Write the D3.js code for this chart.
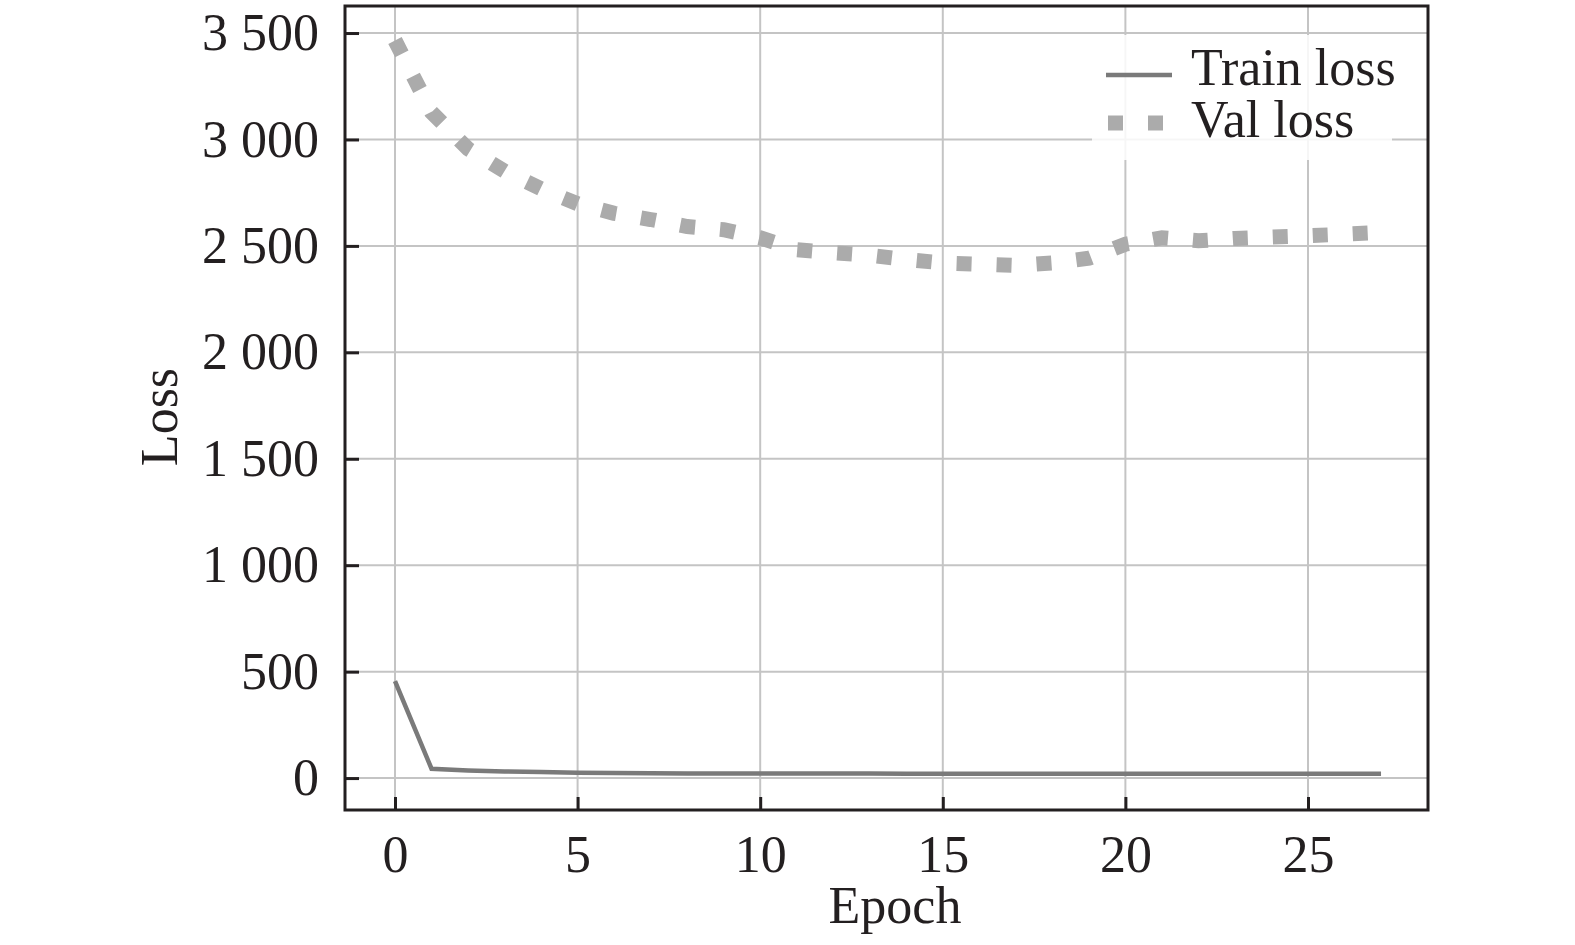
<!DOCTYPE html>
<html>
<head>
<meta charset="utf-8">
<script src="https://cdn.jsdelivr.net/npm/d3@7/dist/d3.min.js"></script>
<style>
	body { margin: 0; background: #fff; }
	svg { display: block; font-family: "Liberation Serif", "Times New Roman", serif; }
	.grid line { stroke: #c4c4c4; stroke-width: 2; }
	.axis path { display: none; }
	.axis line { stroke: #231f20; stroke-width: 3; }
	.axis text { fill: #231f20; font-size: 52px; font-family: "Liberation Serif", "Times New Roman", serif; }
</style>
</head>
<body>
<svg id="loss_svg" width="1575" height="945"></svg>
<script>
var epochs = [0, 1, 2, 3, 4, 5, 6, 7, 8, 9, 10, 11, 12, 13, 14, 15, 16, 17, 18, 19, 20, 21, 22, 23, 24, 25, 26, 27];

var train_loss = [455, 44, 36, 31, 28, 25, 24, 23, 22, 22, 21, 21, 21, 21, 20, 20, 20, 20, 20, 20, 20, 20, 20, 20, 20, 20, 20, 20];

var val_loss = [3465, 3128, 2956, 2851, 2768, 2698, 2653, 2624, 2591, 2576, 2538, 2482, 2468, 2456, 2436, 2420, 2414, 2408, 2420, 2442, 2508, 2538, 2524, 2535, 2542, 2548, 2555, 2563];

var x_ticks = [0, 5, 10, 15, 20, 25];
var y_ticks = [0, 500, 1000, 1500, 2000, 2500, 3000, 3500];

var series_names = ["Train loss", "Val loss"];

var svg = d3.select("#loss_svg"),
	box = {left: 345, right: 1428, top: 6, bottom: 810};

var x = d3.scaleLinear()
	.domain([-1.369, 28.286])
	.range([box.left, box.right]);

var y = d3.scaleLinear()
	.domain([-150, 3627])
	.range([box.bottom, box.top]);

// thousands separated by a space, as in the figure
var fmt = d3.formatLocale({decimal: ".", thousands: " ", grouping: [3], currency: ["", ""]}).format(",");

var rows = epochs.map(function(e, i) {
	return {epoch: e, train: train_loss[i], val: val_loss[i]};
});

// grid
var grid = svg.append("g").attr("class", "grid");

grid.selectAll("line.gx")
	.data(x_ticks)
	.enter().append("line")
	.attr("class", "gx")
	.attr("x1", function(d) { return x(d); })
	.attr("x2", function(d) { return x(d); })
	.attr("y1", box.top)
	.attr("y2", box.bottom);

grid.selectAll("line.gy")
	.data(y_ticks)
	.enter().append("line")
	.attr("class", "gy")
	.attr("x1", box.left)
	.attr("x2", box.right)
	.attr("y1", function(d) { return y(d); })
	.attr("y2", function(d) { return y(d); });

var line_train = d3.line()
	.x(function(d) { return x(d.epoch); })
	.y(function(d) { return y(d.train); });

var line_val = d3.line()
	.x(function(d) { return x(d.epoch); })
	.y(function(d) { return y(d.val); });

svg.append("path")
	.datum(rows)
	.attr("d", line_train)
	.attr("fill", "none")
	.attr("stroke", "#7a7a7a")
	.attr("stroke-width", 4.5);

svg.append("path")
	.datum(rows)
	.attr("d", line_val)
	.attr("fill", "none")
	.attr("stroke", "#ababab")
	.attr("stroke-width", 15)
	.attr("stroke-dasharray", "15,25");

// axes, ticks pointing inward
svg.append("g")
	.attr("class", "axis axis--x")
	.attr("transform", "translate(0," + box.bottom + ")")
	.call(d3.axisBottom(x).tickValues(x_ticks).tickSize(-13).tickPadding(25))
	.attr("font-family", null)
	.attr("font-size", null);

svg.append("g")
	.attr("class", "axis axis--y")
	.attr("transform", "translate(" + box.left + ",0)")
	.call(d3.axisLeft(y).tickValues(y_ticks).tickFormat(fmt).tickSize(-14).tickPadding(26))
	.attr("font-family", null)
	.attr("font-size", null);

svg.selectAll(".axis--x text").attr("dy", "0.71em");

svg.append("rect")
	.attr("x", box.left)
	.attr("y", box.top)
	.attr("width", box.right - box.left)
	.attr("height", box.bottom - box.top)
	.attr("fill", "none")
	.attr("stroke", "#231f20")
	.attr("stroke-width", 3);

// axis titles
svg.append("text")
	.attr("x", 895)
	.attr("y", 923)
	.attr("text-anchor", "middle")
	.style("font-size", "52px")
	.style("fill", "#231f20")
	.text("Epoch");

svg.append("text")
	.attr("transform", "translate(177,417) rotate(-90)")
	.attr("text-anchor", "middle")
	.style("font-size", "52px")
	.style("fill", "#231f20")
	.text("Loss");

// legend
var legend = svg.append("g").attr("class", "legend");

legend.append("rect")
	.attr("x", 1092)
	.attr("y", 35)
	.attr("width", 300)
	.attr("height", 125)
	.attr("fill", "#fff")
	.attr("fill-opacity", 0.85);

legend.append("line")
	.attr("x1", 1106).attr("x2", 1172)
	.attr("y1", 75).attr("y2", 75)
	.attr("stroke", "#7a7a7a")
	.attr("stroke-width", 4.5);

legend.append("line")
	.attr("x1", 1108).attr("x2", 1172)
	.attr("y1", 123).attr("y2", 123)
	.attr("stroke", "#ababab")
	.attr("stroke-width", 15)
	.attr("stroke-dasharray", "15,25");

legend.selectAll("text")
	.data(series_names)
	.enter().append("text")
	.attr("x", 1191)
	.attr("y", function(d, i) { return 85 + i * 52; })
	.style("font-size", "52px")
	.style("fill", "#231f20")
	.text(function(d) { return d; });
</script>
</body>
</html>
